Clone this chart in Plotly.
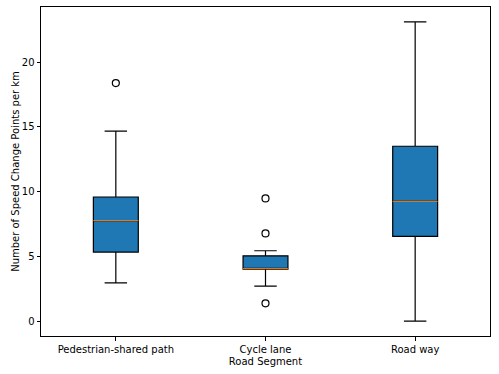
import plotly.graph_objects as go

categories = ["Pedestrian-shared path", "Cycle lane", "Road way"]
positions = [1, 2, 3]
lower_whisker = [2.95, 2.7, 0.0]
q1 = [5.33, 4.0, 6.54]
median = [7.76, 4.05, 9.24]
q3 = [9.58, 5.04, 13.5]
upper_whisker = [14.67, 5.43, 23.1]
outlier_x = [1, 2, 2, 2]
outlier_y = [18.38, 9.47, 6.77, 1.37]
box_width = 0.3

fig = go.Figure()
for i, name in enumerate(categories):
    fig.add_trace(go.Box(
        x=[positions[i]], q1=[q1[i]], median=[median[i]], q3=[q3[i]],
        lowerfence=[lower_whisker[i]], upperfence=[upper_whisker[i]],
        width=box_width, whiskerwidth=0.5,
        fillcolor="#1f77b4", line=dict(color="black", width=1.2),
        boxpoints=False, showlegend=False, hoverinfo="skip",
    ))
    fig.add_trace(go.Scatter(
        x=[positions[i] - box_width / 2, positions[i] + box_width / 2],
        y=[median[i], median[i]], mode="lines",
        line=dict(color="#ff7f0e", width=1), showlegend=False, hoverinfo="skip",
    ))

fig.add_trace(go.Scatter(
    x=outlier_x, y=outlier_y, mode="markers",
    marker=dict(symbol="circle-open", size=7, color="black", line=dict(width=1.2)),
    showlegend=False, hoverinfo="skip", cliponaxis=False,
))

ymin, ymax = 0.0, 23.1
pad = (ymax - ymin) * 0.05

fig.update_layout(
    width=499, height=374,
    margin=dict(l=41, r=9, t=7, b=38, autoexpand=False),
    paper_bgcolor="white", plot_bgcolor="white",
    font=dict(family="DejaVu Sans", size=10, color="black"),
    xaxis=dict(
        range=[0.5, 3.5], tickmode="array", tickvals=positions, ticktext=categories,
        showgrid=False, zeroline=False, showline=True, linecolor="black", linewidth=1,
        mirror=True, ticks="outside", ticklen=3.5, tickcolor="black", automargin=False,
        title=dict(text="Road Segment", standoff=4, font=dict(size=10)),
    ),
    yaxis=dict(
        range=[ymin - pad, ymax + pad], tickmode="array", tickvals=[0, 5, 10, 15, 20],
        showgrid=False, zeroline=False, showline=True, linecolor="black", linewidth=1,
        mirror=True, ticks="outside", ticklen=3.5, tickcolor="black", automargin=False,
        title=dict(text="Number of Speed Change Points per km", standoff=0, font=dict(size=10)),
    ),
)

fig.write_html(
    "out.html",
    config={"displayModeBar": False},
    post_script="document.body.style.margin='0';document.body.style.overflow='hidden';",
)
